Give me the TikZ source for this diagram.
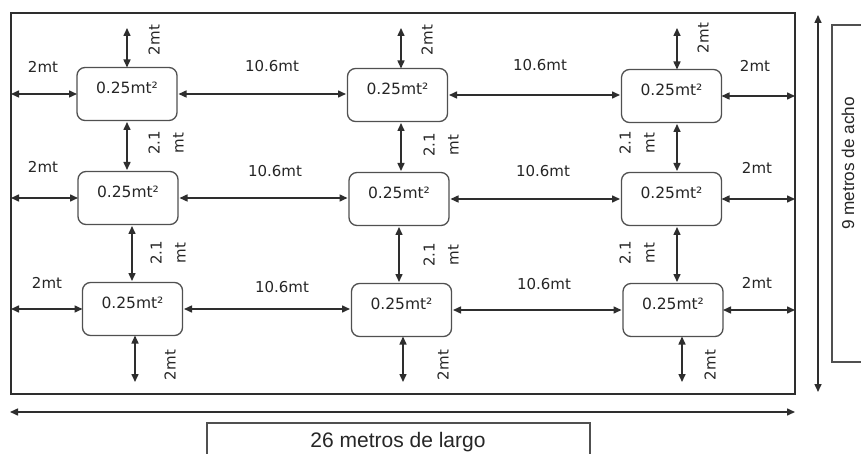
\documentclass[tikz,border=0pt]{standalone}
\usepackage{fontspec}
\setmainfont{DejaVu Sans}
\newfontfamily\arialf{Liberation Sans}
\usetikzlibrary{arrows.meta}
\definecolor{linec}{HTML}{2E2E2E}
\definecolor{boxc}{HTML}{505050}
\definecolor{txtc}{HTML}{262626}
\begin{document}
\begin{tikzpicture}[x=1pt,y=-1pt,
  cell/.style={draw=boxc, line width=1.3pt, rounded corners=8pt, minimum width=100pt, minimum height=53pt, inner sep=0pt, outer sep=0pt, font=\fontsize{15.5}{18}\selectfont, text=txtc},
  dim/.style={draw=linec, line width=1.5pt, {Triangle[length=8pt,width=7pt]}-{Triangle[length=8pt,width=7pt]}},
  gap/.style={shorten <=1.5pt, shorten >=1.5pt},
  lbl/.style={font=\fontsize{15}{18}\selectfont, text=txtc, inner sep=0pt},
  vlbl/.style={lbl, rotate=90},
  vlbltwo/.style={lbl, rotate=90, align=center, font=\fontsize{15}{24}\selectfont},
  frame/.style={draw=linec, line width=1.4pt, inner sep=0pt, outer sep=0pt}]
\useasboundingbox (0,0) rectangle (861,454);
\fill[white] (0,0) rectangle (861,454);

% room outline
\node[frame, minimum width=784pt, minimum height=381pt] (room) at (403,203.5) {};

% cells
\newcommand{\cellt}{\raisebox{12pt}{0.25mt²}}
\node[cell] (b11) at (127,94) {\cellt};
\node[cell] (b12) at (397.5,95) {\cellt};
\node[cell] (b13) at (671.5,96) {\cellt};
\node[cell] (b21) at (128,198) {\cellt};
\node[cell] (b22) at (399,199) {\cellt};
\node[cell] (b23) at (671.5,199) {\cellt};
\node[cell] (b31) at (132.5,309) {\cellt};
\node[cell] (b32) at (401.5,310) {\cellt};
\node[cell] (b33) at (673,310) {\cellt};

% horizontal dimension arrows
\draw[dim] (room.west |- b11.west) -- (b11.west);
\draw[dim,gap] (b11.east) -- (b11.east -| b12.west);
\draw[dim,gap] (b12.east) -- (b12.east -| b13.west);
\draw[dim] (b13.east) -- (room.east |- b13.east);
\draw[dim] (room.west |- b21.west) -- (b21.west);
\draw[dim,gap] (b21.east) -- (b21.east -| b22.west);
\draw[dim,gap] (b22.east) -- (b22.east -| b23.west);
\draw[dim] (b23.east) -- (room.east |- b23.east);
\draw[dim] (room.west |- b31.west) -- (b31.west);
\draw[dim,gap] (b31.east) -- (b31.east -| b32.west);
\draw[dim,gap] (b32.east) -- (b32.east -| b33.west);
\draw[dim] (b33.east) -- (room.east |- b33.east);

% vertical arrows (top)
\coordinate (t1) at (127,28);
\coordinate (t2) at (401,28);
\coordinate (t3) at (677,28);
\draw[dim] (t1) -- (t1 |- b11.north);
\draw[dim] (t2) -- (t2 |- b12.north);
\draw[dim] (t3) -- (t3 |- b13.north);
% between rows
\coordinate (m11) at (127,0);
\coordinate (m12) at (401,0);
\coordinate (m13) at (677,0);
\coordinate (m21) at (132,0);
\coordinate (m22) at (399,0);
\coordinate (m23) at (677,0);
\draw[dim,gap] (m11 |- b11.south) -- (m11 |- b21.north);
\draw[dim,gap] (m12 |- b12.south) -- (m12 |- b22.north);
\draw[dim,gap] (m13 |- b13.south) -- (m13 |- b23.north);
\draw[dim,gap] (m21 |- b21.south) -- (m21 |- b31.north);
\draw[dim,gap] (m22 |- b22.south) -- (m22 |- b32.north);
\draw[dim,gap] (m23 |- b23.south) -- (m23 |- b33.north);
% bottom
\coordinate (u1) at (135,382);
\coordinate (u2) at (403,382);
\coordinate (u3) at (682,382);
\draw[dim] (u1 |- b31.south) -- (u1);
\draw[dim] (u2 |- b32.south) -- (u2);
\draw[dim] (u3 |- b33.south) -- (u3);

% labels
\node[vlbl] (lt1) at (154,40) {2mt};
\node[vlbl] (lt2) at (427,40) {2mt};
\node[vlbl] (lt3) at (703,38) {2mt};
\node[lbl] (l1a) at (43,67) {2mt};
\node[lbl] (l1b) at (272,66) {10.6mt};
\node[lbl] (l1c) at (540,65) {10.6mt};
\node[lbl] (l1d) at (755,66) {2mt};
\node[vlbltwo] (lm11) at (166,143) {2.1\\mt};
\node[vlbltwo] (lm12) at (441,145) {2.1\\mt};
\node[vlbltwo] (lm13) at (637,143) {2.1\\mt};
\node[lbl] (l2a) at (43,167) {2mt};
\node[lbl] (l2b) at (275,171) {10.6mt};
\node[lbl] (l2c) at (543,171) {10.6mt};
\node[lbl] (l2d) at (757,168) {2mt};
\node[vlbltwo] (lm21) at (168,253) {2.1\\mt};
\node[vlbltwo] (lm22) at (441,255) {2.1\\mt};
\node[vlbltwo] (lm23) at (637,253) {2.1\\mt};
\node[lbl] (l3a) at (47,283) {2mt};
\node[lbl] (l3b) at (282,287) {10.6mt};
\node[lbl] (l3c) at (544,284) {10.6mt};
\node[lbl] (l3d) at (757,283) {2mt};
\node[vlbl] (lb1) at (170,365) {2mt};
\node[vlbl] (lb2) at (443,365) {2mt};
\node[vlbl] (lb3) at (710,365) {2mt};

% overall dimensions
\coordinate (hl) at (10,412);
\coordinate (hr) at (795,412);
\draw[dim] (hl) -- (hr);
\coordinate (vt) at (818,15);
\coordinate (vb) at (818,392);
\draw[dim] (vt) -- (vb);

\node[frame, draw=boxc, line width=1.3pt, minimum width=383pt, minimum height=60pt] (lenbox) at (398.5,453) {};
\node[font=\arialf\fontsize{21}{24}\selectfont, text=txtc, inner sep=0pt, anchor=base] (lentxt) at (398,447) {26 metros de largo};
\node[frame, draw=boxc, line width=1.3pt, minimum width=40pt, minimum height=337pt] (widbox) at (852,193.5) {};
\node[font=\arialf\fontsize{17.2}{20}\selectfont, text=txtc, inner sep=0pt, rotate=90] (widtxt) at (848,163.5) {9 metros de acho};
\end{tikzpicture}
\end{document}
